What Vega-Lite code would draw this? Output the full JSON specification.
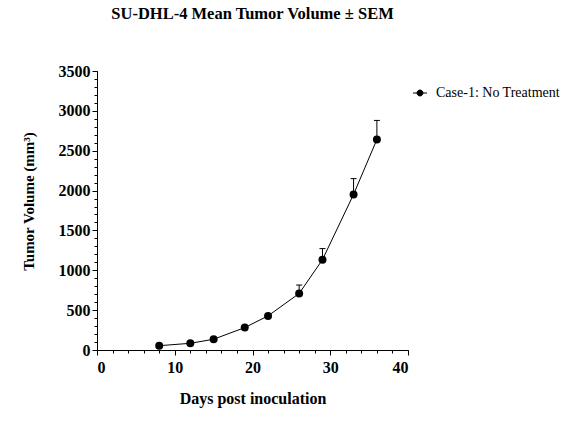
{
  "$schema": "https://vega.github.io/schema/vega-lite/v6.json",
  "width": 311,
  "height": 279,
  "autosize": {"type": "none"},
  "padding": {"left": 97, "top": 71, "right": 166, "bottom": 86},
  "background": "white",
  "title": {
    "text": "SU-DHL-4 Mean Tumor Volume ± SEM",
    "font": "Liberation Serif",
    "fontSize": 16.5,
    "fontWeight": "bold",
    "color": "black",
    "anchor": "middle",
    "offset": 41
  },
  "config": {
    "view": {"stroke": null},
    "axis": {
      "labelFont": "Liberation Serif",
      "labelFontWeight": "bold",
      "labelFontSize": 16,
      "labelColor": "black",
      "titleFont": "Liberation Serif",
      "titleFontWeight": "bold",
      "titleFontSize": 16,
      "titleColor": "black",
      "domainColor": "black",
      "tickColor": "black",
      "grid": false,
      "format": "d"
    }
  },
  "data": {
    "values": [
      {"day": 8, "mean": 54, "upper": 54, "group": "Case-1: No Treatment"},
      {"day": 12, "mean": 84, "upper": 84, "group": "Case-1: No Treatment"},
      {"day": 15, "mean": 135, "upper": 135, "group": "Case-1: No Treatment"},
      {"day": 19, "mean": 281, "upper": 281, "group": "Case-1: No Treatment"},
      {"day": 22, "mean": 428, "upper": 428, "group": "Case-1: No Treatment"},
      {"day": 26, "mean": 709, "upper": 815, "group": "Case-1: No Treatment"},
      {"day": 29, "mean": 1133, "upper": 1272, "group": "Case-1: No Treatment"},
      {"day": 33, "mean": 1952, "upper": 2150, "group": "Case-1: No Treatment"},
      {"day": 36, "mean": 2641, "upper": 2880, "group": "Case-1: No Treatment"}
    ]
  },
  "layer": [
    {
      "mark": {"type": "rule", "color": "black", "strokeWidth": 1},
      "encoding": {
        "x": {"field": "day", "type": "quantitative", "scale": {"domain": [0, 40], "nice": false},
              "axis": {"orient": "bottom", "values": [0,2,4,6,8,10,12,14,16,18,20,22,24,26,28,30,32,34,36,38,40], "labels": false, "title": null, "tickSize": 3, "domain": false}},
        "y": {"field": "mean", "type": "quantitative", "scale": {"domain": [0, 3500], "nice": false},
              "axis": {"orient": "left", "values": [0,100,200,300,400,500,600,700,800,900,1000,1100,1200,1300,1400,1500,1600,1700,1800,1900,2000,2100,2200,2300,2400,2500,2600,2700,2800,2900,3000,3100,3200,3300,3400,3500], "labels": false, "title": null, "tickSize": 3, "domain": false}},
        "y2": {"field": "upper"}
      }
    },
    {
      "mark": {"type": "rule", "color": "black", "strokeWidth": 1, "xOffset": -3, "x2Offset": 3},
      "transform": [{"filter": "datum.upper > datum.mean"}],
      "encoding": {
        "x": {"field": "day", "type": "quantitative", "axis": {"orient": "bottom", "values": [0, 10, 20, 30, 40], "title": "Days post inoculation", "tickSize": 5, "labelPadding": 4, "titlePadding": 15}},
        "x2": {"field": "day"},
        "y": {"field": "upper", "type": "quantitative", "axis": {"orient": "left", "values": [0, 500, 1000, 1500, 2000, 2500, 3000, 3500], "title": "Tumor Volume (mm³)", "titleFontSize": 15, "titleY": 130, "tickSize": 5, "labelPadding": 2, "titlePadding": 22}}
      }
    },
    {
      "mark": {"type": "line", "color": "black", "strokeWidth": 1},
      "encoding": {
        "x": {"field": "day", "type": "quantitative", "axis": null},
        "y": {"field": "mean", "type": "quantitative", "axis": null}
      }
    },
    {
      "mark": {"type": "point", "filled": true, "size": 64, "opacity": 1, "shape": "circle"},
      "encoding": {
        "x": {"field": "day", "type": "quantitative", "axis": null},
        "y": {"field": "mean", "type": "quantitative", "axis": null},
        "color": {"field": "group", "type": "nominal", "scale": {"range": ["black"]},
          "legend": {"title": null, "orient": "none", "legendX": 315, "legendY": 14,
            "symbolType": "M-1,0L-0.42,0M0.42,0L1,0M-0.42,0A0.42,0.42 0 1,1 0.42,0A0.42,0.42 0 1,1 -0.42,0Z",
            "symbolSize": 200, "symbolFillColor": "black", "symbolStrokeColor": "black", "symbolStrokeWidth": 1,
            "labelFont": "Liberation Serif", "labelFontSize": 14, "labelColor": "black", "labelOffset": 8}}
      }
    }
  ],
  "resolve": {"axis": {"x": "independent", "y": "independent"}}
}
